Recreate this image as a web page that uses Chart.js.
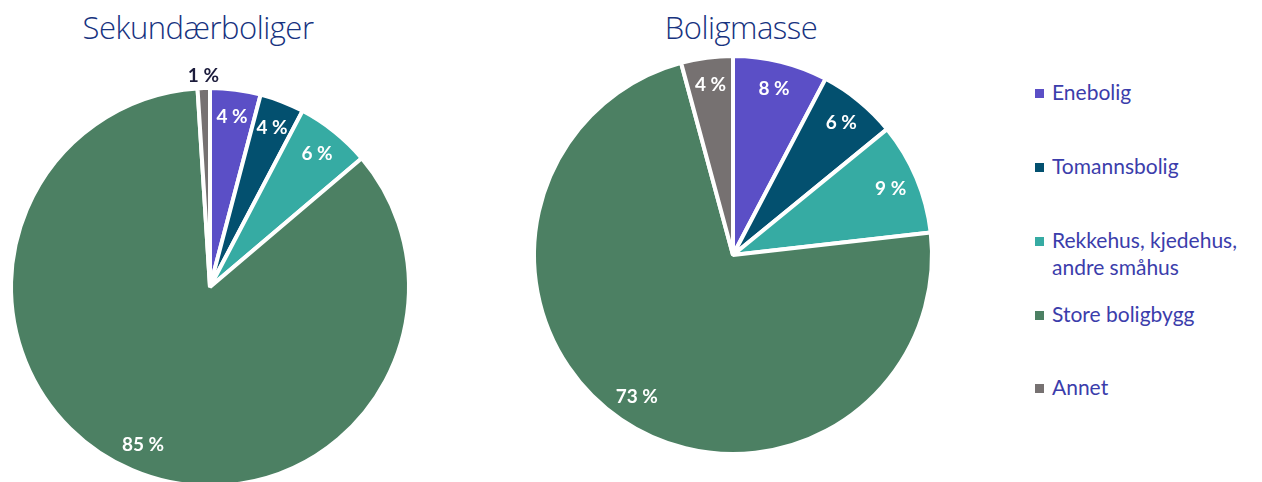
<!DOCTYPE html>
<html>
<head>
<meta charset="utf-8">
<script src="https://cdn.jsdelivr.net/npm/chart.js@4/dist/chart.umd.min.js"></script>
<style>
  html, body { margin: 0; padding: 0; background: #fff; overflow: hidden; }
  body { width: 1262px; height: 482px; position: relative; font-family: Lato, "Open Sans", sans-serif; }
  .title { position: absolute; top: 6px; font-family: "Open Sans", Lato, sans-serif; font-weight: 300;
           font-size: 31px; color: #17337f; text-align: center; width: 400px; letter-spacing: -0.5px; }
  .wrap { position: absolute; top: 0; }
  #legend { position: absolute; left: 1034px; top: 0; }
  .item { position: absolute; left: 0; white-space: pre-line; font-size: 21px; line-height: 27px;
          color: #3b3dab; padding-left: 18px; width: 230px; }
  .item span { position: absolute; left: 1px; top: 11px; width: 9px; height: 9px; }
</style>
</head>
<body>
<div class="title" style="left:-2px">Sekundærboliger</div>
<div class="title" style="left:541px">Boligmasse</div>
<div class="wrap" style="left:0;width:420px;height:500px"><canvas id="left"></canvas></div>
<div class="wrap" style="left:523px;width:420px;height:482px"><canvas id="right"></canvas></div>
<div id="legend"></div>
<script>
const categories = ['Enebolig', 'Tomannsbolig', 'Rekkehus, kjedehus,\nandre småhus', 'Store boligbygg', 'Annet'];
const sekundaerboliger = [4.1, 3.6, 6.1, 85.2, 1.0];
const boligmasse = [7.7, 6.4, 9.1, 72.6, 4.2];
const colors = ['#5b4fc6', '#03506f', '#36aba3', '#4c8063', '#767171'];
const legendY = [78, 152, 226, 300, 373];

// draws "x %" labels on each slice
const sliceLabels = {
  id: 'sliceLabels',
  afterDatasetsDraw(chart, args, opts) {
    const ctx = chart.ctx;
    const meta = chart.getDatasetMeta(0);
    const values = chart.data.datasets[0].data;
    ctx.save();
    ctx.font = 'bold 19px Lato, "Open Sans", sans-serif';
    ctx.textAlign = 'center';
    ctx.textBaseline = 'middle';
    meta.data.forEach((arc, i) => {
      const p = arc.getProps(['x', 'y', 'startAngle', 'endAngle', 'outerRadius'], true);
      const mid = (p.startAngle + p.endAngle) / 2;
      const outside = opts.outside && opts.outside.includes(i);
      const r = p.outerRadius * (outside ? 1.06 : 0.86);
      ctx.fillStyle = outside ? '#1c1c3c' : '#ffffff';
      ctx.fillText(Math.round(values[i]) + ' %', p.x + Math.cos(mid) * r, p.y + Math.sin(mid) * r);
    });
    ctx.restore();
  }
};

function makePie(id, values, padding, outside) {
  return new Chart(document.getElementById(id), {
    type: 'pie',
    data: {
      labels: categories,
      datasets: [{
        data: values,
        backgroundColor: colors,
        borderColor: '#ffffff',
        borderWidth: 4
      }]
    },
    options: {
      responsive: true,
      maintainAspectRatio: false,
      animation: false,
      layout: { padding: padding },
      plugins: {
        legend: { display: false },
        tooltip: { enabled: false },
        sliceLabels: { outside: outside }
      }
    },
    plugins: [sliceLabels]
  });
}

makePie('left', sekundaerboliger, { top: 86, bottom: 12, left: 9, right: 9 }, [4]);
makePie('right', boligmasse, { top: 54, bottom: 26, left: 9, right: 9 }, []);

const legend = document.getElementById('legend');
categories.forEach((c, i) => {
  const d = document.createElement('div');
  d.className = 'item';
  d.style.top = legendY[i] + 'px';
  d.textContent = c;
  const sw = document.createElement('span');
  sw.style.background = colors[i];
  d.appendChild(sw);
  legend.appendChild(d);
});
</script>
</body>
</html>
